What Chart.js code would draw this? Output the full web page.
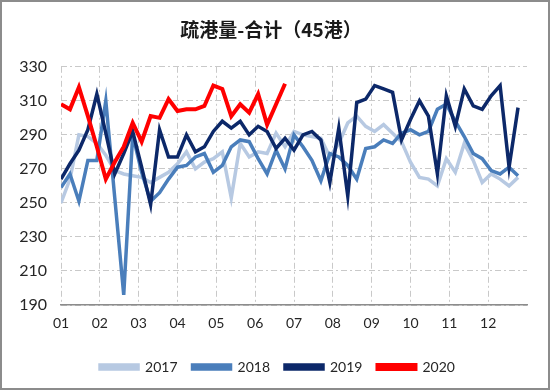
<!DOCTYPE html>
<html>
<head>
<meta charset="utf-8">
<script src="https://cdn.jsdelivr.net/npm/chart.js@4"></script>
<style>
  html, body { margin: 0; padding: 0; background: #fff; }
  #box { width: 550px; height: 390px; box-sizing: border-box; border: 2px solid #8c8c8c; }
</style>
</head>
<body>
<div id="box"><canvas id="Chart" width="546" height="386"></canvas></div>
<script>
// * Month tick labels (x axis runs over 52 weeks)
const monthLabels = ['01', '02', '03', '04', '05', '06', '07', '08', '09', '10', '11', '12']

// * Weekly values
const s2017 = [250, 264, 290, 289, 285, 278, 269, 267, 266, 265, 262, 265, 268, 273, 280, 270,
    274, 276, 280, 253, 285, 277, 280, 279, 291, 283, 292, 290, 289, 288, 277, 285,
    297, 301, 295, 292, 296, 291, 286, 274, 265, 264, 260, 276, 268, 285, 275, 262,
    267, 264, 260, 265]
const s2018 = [259, 267, 251, 275, 275, 310, 253, 196, 290, 268, 251, 256, 264, 271, 272, 277,
    279, 268, 272, 283, 287, 286, 276, 267, 281, 270, 290, 283, 275, 263, 279, 277,
    272, 264, 282, 283, 287, 285, 291, 293, 290, 292, 305, 308, 298, 289, 279, 276,
    269, 267, 271, 266]
const s2019 = [264, 273, 281, 293, 314, 291, 267, 279, 292, 271, 249, 293, 277, 277, 290, 280,
    283, 292, 298, 294, 298, 290, 295, 292, 282, 288, 281, 290, 292, 287, 262, 294,
    254, 309, 311, 319, 317, 315, 287, 299, 310, 301, 267, 313, 295, 317, 307, 305,
    313, 319, 271, 306]
const s2020 = [308, 305, 318, 301, 283, 264, 274, 283, 297, 286, 301, 300, 311, 304, 305, 305,
    307, 319, 317, 301, 308, 303, 314, 296, 308, 320]

const toPoints = arr => arr.map((v, i) => ({ x: i, y: v }))
const monthPos = monthLabels.map((m, i) => i * 52 / 12)

const font = 'Lato, "Noto Sans", sans-serif'
const dash = [6, 3, 2, 3]

const data = {
    datasets: [{
        label: '2017',
        data: toPoints(s2017),
        borderColor: '#b7c9e2',
        backgroundColor: '#b7c9e2',
        order: 4,
    }, {
        label: '2018',
        data: toPoints(s2018),
        borderColor: '#4a7ebb',
        backgroundColor: '#4a7ebb',
        order: 3,
    }, {
        label: '2019',
        data: toPoints(s2019),
        borderColor: '#0c2869',
        backgroundColor: '#0c2869',
        order: 2,
    }, {
        label: '2020',
        data: toPoints(s2020),
        borderColor: '#ff0000',
        backgroundColor: '#ff0000',
        borderWidth: 4,
        order: 1,
    }],
};

// nudge title and legend right a little (the y axis eats the left side)
const shiftBoxes = {
    id: 'shiftBoxes',
    afterLayout(chart) {
        chart.legend.left += 26
        chart.titleBlock.left += 13
    }
}

const config = {
    type: 'line',
    data,
    plugins: [shiftBoxes],
    options: {
        responsive: false,
        animation: false,
        layout: { padding: { left: 0, right: 21, top: 0, bottom: 4 } },
        elements: {
            point: { radius: 0 },
            line: { borderWidth: 3.5, tension: 0 },
        },
        scales: {
            x: {
                type: 'linear',
                min: 0,
                max: 52,
                afterBuildTicks: s => { s.ticks = monthPos.map(v => ({ value: v })) },
                afterFit: s => { s.height = 40 },
                ticks: {
                    autoSkip: false,
                    maxRotation: 0,
                    padding: 10,
                    color: '#262626',
                    font: { family: font, size: 14 },
                    callback: (v, i) => monthLabels[i],
                },
                grid: { color: '#c9c9c9', lineWidth: 1, drawTicks: false },
                border: { display: true, color: '#8c8c8c', width: 1.5, dash: dash },
            },
            y: {
                min: 190,
                max: 330,
                afterFit: s => { s.width = 59 },
                ticks: {
                    stepSize: 20,
                    padding: 14,
                    color: '#262626',
                    font: { family: font, size: 16 },
                },
                grid: { color: '#c9c9c9', lineWidth: 1, drawTicks: false },
                border: { display: false, dash: dash },
            },
        },
        plugins: {
            title: {
                display: true,
                text: '疏港量-合计（45港）',
                color: '#1a1a1a',
                font: { family: '"Noto Sans CJK SC", sans-serif', size: 19, weight: 'bold' },
                padding: { top: 16, bottom: 26 },
            },
            legend: {
                position: 'bottom',
                labels: {
                    color: '#262626',
                    font: { family: font, size: 14 },
                    boxWidth: 38,
                    boxHeight: 4,
                    padding: 15,
                    sort: (a, b) => a.datasetIndex - b.datasetIndex,
                },
            },
            tooltip: { enabled: false },
        },
    },
}

const lineChart = new Chart(document.getElementById('Chart'), config);
</script>
</body>
</html>
